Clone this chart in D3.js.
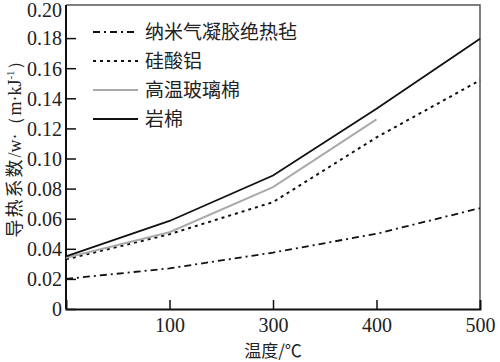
<!DOCTYPE html>
<html>
<head>
<meta charset="utf-8">
<script src="https://cdn.jsdelivr.net/npm/d3@7"></script>
<style>
  body { margin: 0; background: #fff; }
  svg { display: block; }
</style>
</head>
<body>
<svg id="chart" width="500" height="362"></svg>
<script>
// Temperature points (the axis is drawn with equal steps between them)
let temps = [0, 100, 300, 400, 500];
let xTickLabels = [100, 300, 400, 500];
let yTicks = [0, 0.02, 0.04, 0.06, 0.08, 0.10, 0.12, 0.14, 0.16, 0.18, 0.20];

// Thermal conductivity readings
let aerogel = [0.020, 0.027, 0.0375, 0.050, 0.067];
let aluminosilicate = [0.033, 0.0497, 0.071, 0.114, 0.152];
let glassWool = [0.034, 0.051, 0.081, 0.126];
let rockWool = [0.035, 0.0585, 0.0887, 0.133, 0.1795];

let seriesNames = ['纳米气凝胶绝热毡', '硅酸铝', '高温玻璃棉', '岩棉'];

let serif = "'Liberation Serif', Tinos, 'Times New Roman', Times, 'DejaVu Serif', serif";
let cjk = "'Noto Sans CJK SC', sans-serif";

let drawChart = () => {
    let margin = { top: 8, right: 20, bottom: 53, left: 66 };
    let width = 500 - margin.left - margin.right;
    let height = 362 - margin.top - margin.bottom;

    let svg = d3.select('#chart');
    let g = svg.append('g')
        .attr('transform', `translate(${margin.left},${margin.top})`);

    // piecewise scale: each listed temperature gets an equal step
    let x = d3.scaleLinear()
        .domain(temps)
        .range(temps.map((d, i) => i * width / (temps.length - 1)));

    let y = d3.scaleLinear()
        .domain([0, 0.20])
        .range([height, 0]);

    // frame (top and right)
    g.append('path')
        .attr('d', `M0,-3H${width}V${height}`)
        .attr('fill', 'none')
        .attr('stroke', '#555')
        .attr('stroke-width', 1.5);

    // y axis, ticks pointing inward
    let yAxis = g.append('g')
        .call(d3.axisLeft(y).tickValues(yTicks).tickSize(-10).tickPadding(14)
            .tickFormat((d) => d === 0 ? '0' : d.toFixed(2)));
    yAxis.attr('font-family', serif).attr('font-size', 20);
    yAxis.select('.domain').attr('d', `M0,-3V${height}`)
        .attr('stroke', '#111').attr('stroke-width', 2);
    yAxis.selectAll('.tick line').attr('stroke', '#111').attr('stroke-width', 1.5);
    yAxis.selectAll('.tick text')
        .style('font-family', serif)
        .attr('fill', '#222')
        .attr('x', -4)
        .attr('dy', '0.34em');
    // top label sits against the edge of the picture
    yAxis.selectAll('.tick').filter((d) => d === 0.20).select('text').attr('dy', '0.42em');
    yAxis.selectAll('.tick').filter((d) => d === 0.20).select('line').remove();

    // x axis, ticks pointing inward
    let xAxis = g.append('g')
        .attr('transform', `translate(0,${height})`)
        .call(d3.axisBottom(x).tickValues(xTickLabels).tickSize(-9).tickPadding(14));
    xAxis.attr('font-family', serif).attr('font-size', 20);
    xAxis.select('.domain').attr('stroke', '#111').attr('stroke-width', 2);
    xAxis.selectAll('.tick line').attr('stroke', '#111').attr('stroke-width', 1.5);
    xAxis.selectAll('.tick text')
        .style('font-family', serif)
        .attr('fill', '#222')
        .attr('y', 9);
    xAxis.selectAll('.tick').filter((d) => d === 500).select('line').remove();

    // axis titles
    svg.append('text')
        .attr('x', margin.left + x(300))
        .attr('y', 357)
        .attr('text-anchor', 'middle')
        .style('font-family', cjk)
        .style('font-size', '17px')
        .attr('fill', '#222')
        .text('温度/℃');

    let yTitle = svg.append('text')
        .attr('transform', 'translate(21,145) rotate(-90)')
        .attr('text-anchor', 'middle')
        .attr('fill', '#222')
        .style('font-size', '18px');
    yTitle.append('tspan').style('font-family', cjk)
        .style('letter-spacing', '2px').text('导热系数');
    yTitle.append('tspan').style('font-family', serif).text('/w·（m·kJ');
    yTitle.append('tspan').style('font-family', serif).style('font-size', '11px')
        .attr('dy', -7).text('-1');
    yTitle.append('tspan').style('font-family', serif).attr('dy', 7).text('）');

    // series
    let styles = [
        { data: aerogel, stroke: '#111', width: 1.8, dash: '7,4,2,4' },
        { data: aluminosilicate, stroke: '#111', width: 2, dash: '3,4' },
        { data: glassWool, stroke: '#aaa', width: 2, dash: null },
        { data: rockWool, stroke: '#111', width: 1.8, dash: null }
    ];

    let line = d3.line()
        .x((d) => x(d.t))
        .y((d) => y(d.v));

    styles.forEach((s) => {
        g.append('path')
            .datum(s.data.map((v, i) => ({ t: temps[i], v: v })))
            .attr('fill', 'none')
            .attr('stroke', s.stroke)
            .attr('stroke-width', s.width)
            .attr('stroke-dasharray', s.dash)
            .attr('d', line);
    });

    // legend
    let legend = svg.append('g').attr('transform', 'translate(93,32)');
    seriesNames.forEach((name, i) => {
        let row = legend.append('g').attr('transform', `translate(0,${i * 29})`);
        row.append('line')
            .attr('x1', 0).attr('x2', 45)
            .attr('stroke', styles[i].stroke)
            .attr('stroke-width', styles[i].width)
            .attr('stroke-dasharray', styles[i].dash);
        row.append('text')
            .attr('x', 52)
            .attr('dy', '0.35em')
            .style('font-family', cjk)
            .style('font-size', '19px')
            .attr('fill', '#222')
            .text(name);
    });
};

drawChart();
</script>
</body>
</html>
